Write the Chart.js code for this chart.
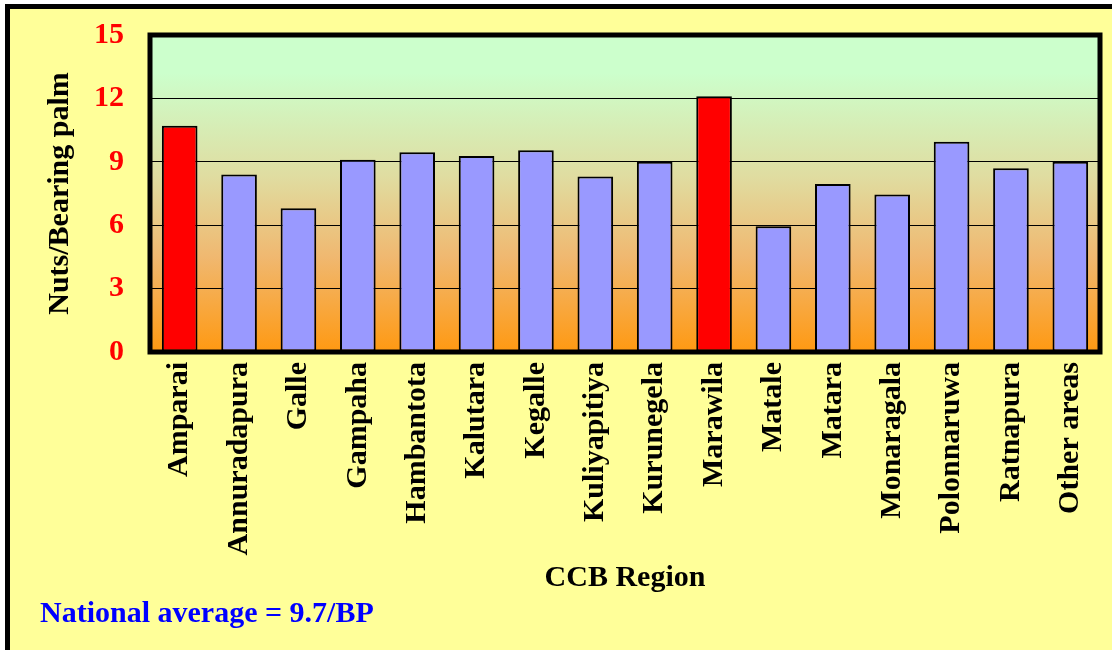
<!DOCTYPE html>
<html>
<head>
<meta charset="utf-8">
<script src="https://cdn.jsdelivr.net/npm/chart.js@4.4.1/dist/chart.umd.min.js"></script>
<style>
html,body{margin:0;padding:0;background:#ffffff;}
#wrap{width:1112px;height:650px;position:relative;}
</style>
</head>
<body>
<div id="wrap"><canvas id="c"></canvas></div>
<script>
// ---- data ----
const regions = ['Amparai','Annuradapura','Galle','Gampaha','Hambantota','Kalutara','Kegalle','Kuliyapitiya','Kurunegela','Marawila','Matale','Matara','Monaragala','Polonnaruwa','Ratnapura','Other areas'];
const nutsPerPalm = [10.7, 8.4, 6.8, 9.1, 9.45, 9.27, 9.55, 8.3, 9.0, 12.1, 5.95, 7.95, 7.45, 9.95, 8.7, 9.0];
const highlighted = ['Amparai','Marawila'];
const yTicks = [0, 3, 6, 9, 12, 15];
const yAxisTitle = 'Nuts/Bearing palm';
const xAxisTitle = 'CCB Region';
const noteText = 'National average = 9.7/BP';

const FONT = "'Liberation Serif', 'Times New Roman', serif";

const backgroundPlugin = {
  id: 'bg',
  beforeDraw(chart) {
    const ctx = chart.ctx;
    const {width, height, chartArea: a} = chart;
    ctx.save();
    ctx.fillStyle = '#ffffff';
    ctx.fillRect(0, 0, width, height);
    ctx.fillStyle = '#FFFF99';
    ctx.fillRect(7, 6, width, height);
    ctx.strokeStyle = '#000000';
    ctx.lineWidth = 5;
    ctx.strokeRect(7.5, 6.5, width + 20, height - 2);
    const g = ctx.createLinearGradient(0, a.top, 0, a.bottom);
    g.addColorStop(0, '#CCFFCC');
    g.addColorStop(0.12, '#CCFFCC');
    g.addColorStop(0.45, '#E0DCA0');
    g.addColorStop(0.7, '#F0B870');
    g.addColorStop(1, '#FF9912');
    ctx.fillStyle = g;
    ctx.fillRect(a.left, a.top, a.right - a.left, a.bottom - a.top);
    ctx.restore();
  }
};

const framePlugin = {
  id: 'frame',
  afterDatasetsDraw(chart) {
    const ctx = chart.ctx;
    const a = chart.chartArea;
    ctx.save();
    ctx.strokeStyle = '#000000';
    ctx.lineWidth = 5;
    ctx.strokeRect(a.left, a.top, a.right - a.left, a.bottom - a.top);
    ctx.restore();
  }
};

new Chart(document.getElementById('c'), {
  type: 'bar',
  data: {
    labels: regions,
    datasets: [{
      data: nutsPerPalm,
      backgroundColor: regions.map(r => highlighted.includes(r) ? '#FF0000' : '#9999FF'),
      borderColor: '#000000',
      borderWidth: 2,
      borderSkipped: false,
      barPercentage: 0.6,
      categoryPercentage: 1.0
    }]
  },
  options: {
    responsive: true,
    maintainAspectRatio: false,
    animation: false,
    layout: { padding: { left: 40, top: 35, right: 12, bottom: 0 } },
    plugins: {
      legend: { display: false },
      tooltip: { enabled: false },
      title: {
        display: true,
        text: noteText,
        position: 'bottom',
        align: 'start',
        color: '#0000FF',
        font: { family: FONT, size: 30, weight: 'bold', lineHeight: 1.2 },
        padding: { top: 0, bottom: 18 }
      }
    },
    scales: {
      x: {
        grid: { display: false, drawTicks: false },
        border: { display: false },
        ticks: {
          autoSkip: false,
          maxRotation: 90,
          minRotation: 90,
          padding: 10,
          color: '#000000',
          font: { family: FONT, size: 30, weight: 'bold' }
        },
        title: {
          display: true,
          text: xAxisTitle,
          color: '#000000',
          font: { family: FONT, size: 30, weight: 'bold', lineHeight: 1.2 },
          padding: { top: 0, bottom: 0 }
        },
        afterFit(scale) {
          scale.height = 244;
          scale.paddingLeft = 0;
          scale.paddingRight = 0;
        }
      },
      y: {
        min: 0,
        max: 15,
        afterBuildTicks(scale) { scale.ticks = yTicks.map(v => ({ value: v })); },
        grid: {
          drawTicks: false,
          color: ctx => (ctx.tick && (ctx.tick.value === 0 || ctx.tick.value === 15)) ? 'rgba(0,0,0,0)' : '#000000',
          lineWidth: 1
        },
        border: { display: false },
        ticks: {
          padding: 26,
          color: '#FF0000',
          font: { family: FONT, size: 30, weight: 'bold' }
        },
        title: {
          display: true,
          text: yAxisTitle,
          color: '#000000',
          font: { family: FONT, size: 30, weight: 'bold', lineHeight: 1.2 },
          padding: { top: 2, bottom: 0 }
        },
        afterFit(scale) {
          scale.width = 110;
          scale.paddingTop = 0;
          scale.paddingBottom = 0;
        }
      }
    }
  },
  plugins: [backgroundPlugin, framePlugin]
});
</script>
</body>
</html>
